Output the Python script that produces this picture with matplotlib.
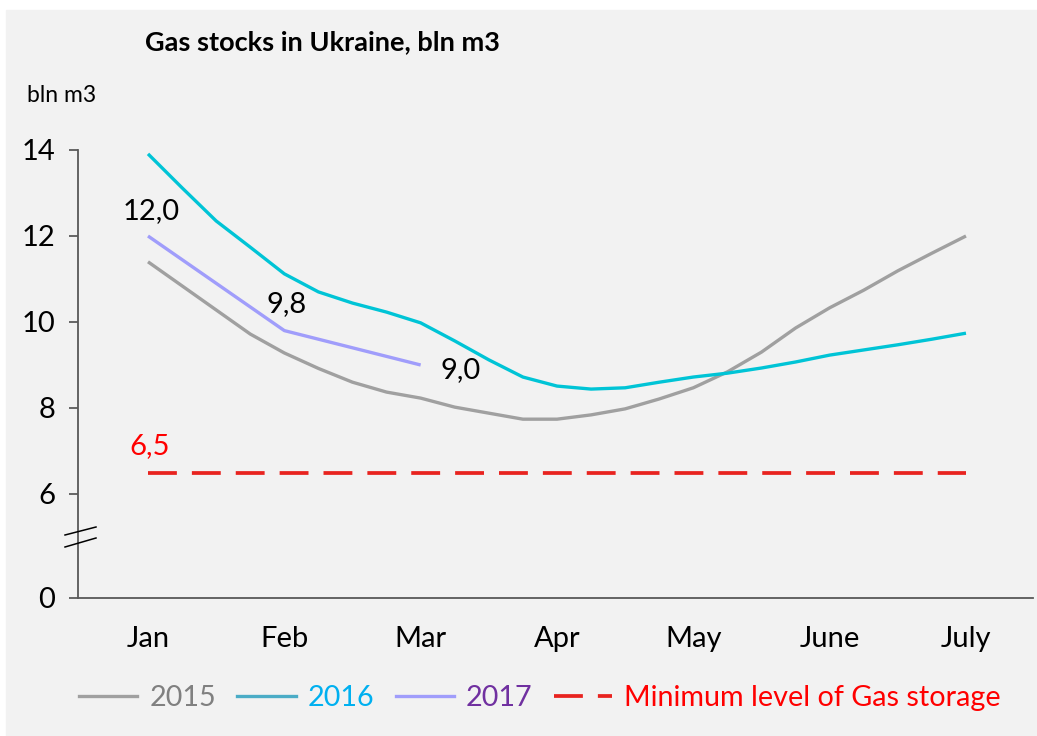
import matplotlib.pyplot as plt
import numpy as np
from matplotlib.lines import Line2D
from matplotlib.patches import Rectangle

plt.rcParams['font.family'] = ['Lato', 'DejaVu Sans']

# months on the axis
meses = ['Jan', 'Feb', 'Mar', 'Apr', 'May', 'June', 'July']

# values every quarter of a month, Jan -> July
stock_2015 = [11.40, 10.84, 10.28, 9.72, 9.28, 8.92, 8.60, 8.37, 8.23, 8.02, 7.88, 7.74, 7.74,
              7.84, 7.98, 8.21, 8.47, 8.84, 9.30, 9.86, 10.33, 10.74, 11.19, 11.60, 12.00]
stock_2016 = [13.91, 13.12, 12.35, 11.74, 11.12, 10.70, 10.44, 10.23, 9.98, 9.56, 9.12, 8.72, 8.51,
              8.44, 8.47, 8.60, 8.72, 8.81, 8.93, 9.07, 9.23, 9.35, 9.47, 9.60, 9.74]
# 2017 only monthly
stock_2017 = [12.0, 9.8, 9.0]
rotulos_2017 = ['12,0', '9,8', '9,0']
nivel_minimo = 6.5

# broken axis: 0 is drawn just below 6
y_zero = 6 - 104 / 43

W, H = 1037, 736
fig = plt.figure(figsize=(W / 100, H / 100), dpi=100, facecolor='white')
fig.patches.append(Rectangle((6 / W, 0), 1, (H - 10) / H, transform=fig.transFigure,
                             color='#f2f2f2', zorder=-10))

ax = fig.add_axes([78 / W, (H - 598) / H, (1033 - 78) / W, (598 - 150) / H])
ax.set_facecolor('none')

x_q = np.arange(len(stock_2015)) / 4
x_m = np.arange(len(stock_2017))

c15, c16, c17, cred = '#a0a0a0', '#00c4d6', '#a09dfb', '#e8231f'
ax.plot(x_q, stock_2015, color=c15, lw=2.4, solid_capstyle='butt')
ax.plot(x_q, stock_2016, color=c16, lw=2.4, solid_capstyle='butt')
ax.plot(x_m, stock_2017, color=c17, lw=2.4, solid_capstyle='butt')
ax.plot([0, len(meses) - 1], [nivel_minimo, nivel_minimo], color=cred, lw=2.7,
        dashes=(7.7, 4))

# data labels
fs = 21
offs = [(2, 18, 'center'), (1.5, 19, 'center'), (14, -3.6, 'left')]
for xi, yi, txt, (dx, dy, ha) in zip(x_m, stock_2017, rotulos_2017, offs):
    ax.annotate(txt, xy=(xi, yi), xytext=(dx, dy), textcoords='offset points',
                ha=ha, va='center', fontsize=fs, color='black')
ax.annotate('6,5', xy=(0, nivel_minimo), xytext=(1.5, 19), textcoords='offset points',
            ha='center', va='center', fontsize=fs, color='red')

ax.set_xlim(-70 / 136.33, 885 / 136.33)
ax.set_ylim(y_zero, 14)
ax.set_xticks(range(len(meses)))
ax.set_xticklabels(meses)
ax.set_yticks([y_zero, 6, 8, 10, 12, 14])
ax.set_yticklabels(['0', '6', '8', '10', '12', '14'])

for s in ['top', 'right']:
    ax.spines[s].set_visible(False)
for s in ['left', 'bottom']:
    ax.spines[s].set_color('#595959')
    ax.spines[s].set_linewidth(1.3)
ax.tick_params(axis='x', length=0, pad=20, labelsize=fs)
ax.tick_params(axis='y', length=6.5, width=1.1, color='#404040', pad=10, labelsize=fs)

# break marks on the y axis
for y1, y2 in [(535, 527), (547, 538)]:
    fig.add_artist(Line2D([65 / W, 96 / W], [1 - y1 / H, 1 - y2 / H],
                          transform=fig.transFigure, color='black', lw=1.1))

fig.text(145 / W, 1 - 42 / H, 'Gas stocks in Ukraine, bln m3', ha='left', va='center',
         fontsize=19.5, fontweight='bold')
fig.text(27 / W, 1 - 95 / H, 'bln m3', ha='left', va='center', fontsize=16.5)

handles = [Line2D([], [], color=c15, lw=2.4),
           Line2D([], [], color='#4bacc6', lw=2.4),
           Line2D([], [], color=c17, lw=2.4),
           Line2D([], [], color=cred, lw=2.7, dashes=(7.7, 4))]
labels = ['2015', '2016', '2017', 'Minimum level of Gas storage']
leg = fig.legend(handles, labels, loc='center', bbox_to_anchor=(540 / W, 1 - 698 / H),
                 ncol=4, frameon=False, fontsize=20.7, handlelength=2.03,
                 handletextpad=0.41, columnspacing=0.75)
for t, c in zip(leg.get_texts(), ['#808080', '#00b0f0', '#7030a0', 'red']):
    t.set_color(c)

fig.savefig('out.png', dpi=100, facecolor=fig.get_facecolor())
